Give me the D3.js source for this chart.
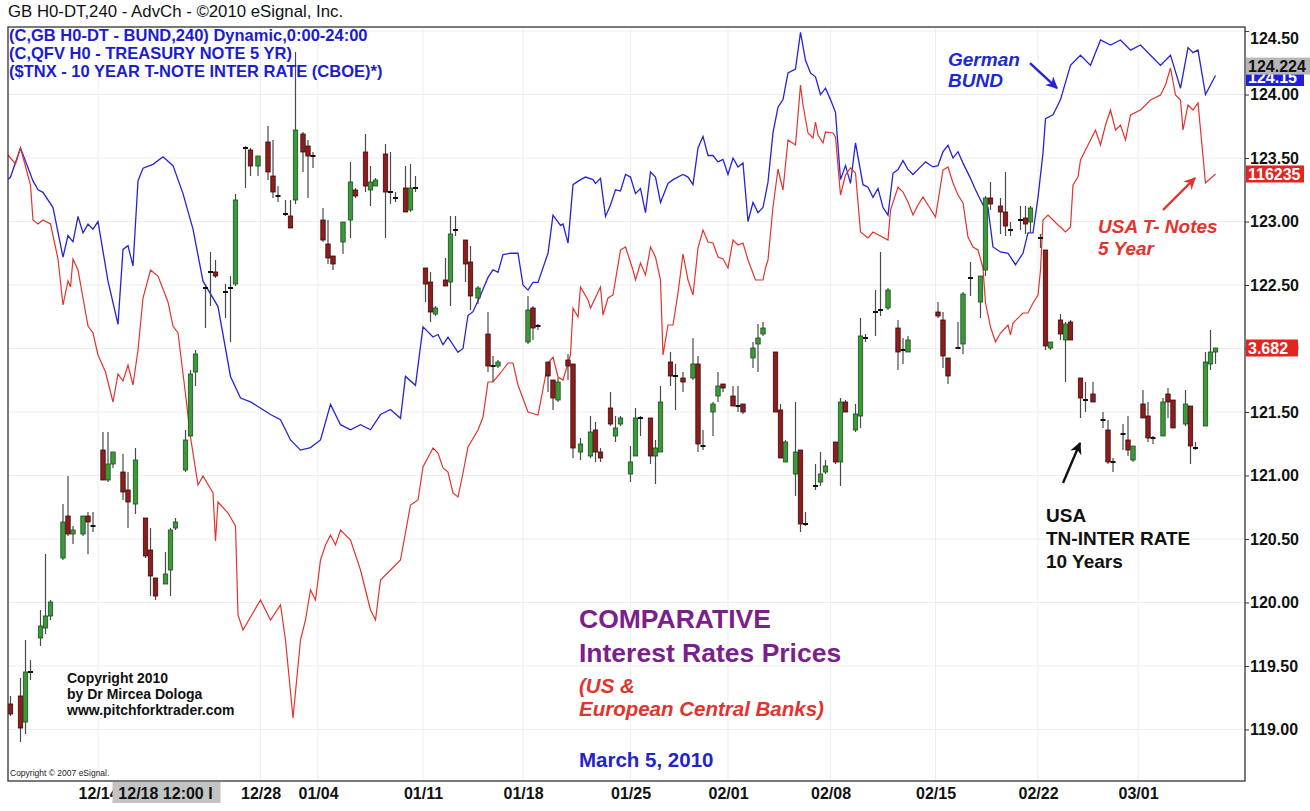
<!DOCTYPE html>
<html>
<head>
<meta charset="utf-8">
<script src="https://cdn.jsdelivr.net/npm/d3@7"></script>
<style>
  body { margin: 0; background: #fff; }
  svg { display: block; }
  text { font-family: "Liberation Sans", Arial, sans-serif; }
</style>
</head>
<body>
<svg width="1310" height="811"></svg>
<script>
// German Bund future, [bar, price]  (right axis)
const bund = [
  [0,123.33],[1,123.35],[5,123.58],[10,123.32],[12,123.25],[14,123.23],[18,123.11],[22,122.72],[24,122.89],[26,122.84],
  [28,123.04],[30,122.91],[32,122.98],[34,122.94],[36,123.00],[40,122.53],[44,122.19],[46,122.78],[48,122.81],[50,122.65],
  [52,123.32],[54,123.42],[58,123.45],[62,123.51],[66,123.44],[70,123.22],[74,122.94],[78,122.53],[84,122.33],[89,121.78],
  [93,121.61],[97,121.58],[105,121.48],[109,121.44],[113,121.28],[117,121.20],[121,121.22],[125,121.28],[129,121.56],[133,121.40],
  [137,121.36],[141,121.40],[145,121.36],[149,121.48],[153,121.52],[157,121.45],[159,121.78],[163,121.71],[166,122.17],[170,122.09],
  [172,122.11],[174,122.03],[176,122.09],[180,121.97],[182,122.00],[184,122.26],[186,122.29],[189,122.42],[192,122.56],[194,122.62],
  [196,122.60],[198,122.74],[201,122.75],[204,122.75],[206,122.50],[208,122.46],[210,122.52],[212,122.52],[216,122.75],[218,123.05],
  [221,122.97],[222,122.98],[224,122.83],[226,123.29],[229,123.33],[231,123.35],[234,123.33],[235,123.30],[237,123.34],[239,123.04],
  [241,123.13],[243,123.25],[245,123.24],[247,123.37],[249,123.35],[251,123.22],[253,123.26],[255,123.07],[257,123.39],[259,123.35],
  [261,123.15],[264,123.30],[266,123.33],[270,123.37],[272,123.35],[274,123.29],[276,123.58],[278,123.67],[280,123.52],[282,123.52],
  [284,123.47],[286,123.49],[288,123.37],[290,123.50],[292,123.43],[294,123.46],[296,123.00],[298,123.15],[300,123.07],[302,123.11],
  [304,123.31],[306,123.70],[308,123.90],[310,123.96],[312,124.17],[315,124.20],[317,124.49],[319,124.27],[321,124.17],[323,124.14],
  [325,124.00],[327,124.05],[329,123.96],[331,123.86],[333,123.33],[335,123.44],[337,123.30],[339,123.62],[342,123.29],[344,123.27],
  [346,123.19],[348,123.26],[350,123.11],[352,123.05],[354,123.38],[356,123.41],[358,123.48],[360,123.41],[362,123.37],[365,123.43],
  [367,123.47],[370,123.43],[372,123.44],[374,123.55],[376,123.60],[378,123.50],[380,123.55],[382,123.46],[385,123.34],[387,123.25],
  [390,123.13],[392,123.11],[394,122.80],[397,122.76],[400,122.75],[403,122.66],[406,122.75],[408,122.91],[410,122.91],[412,123.19],
  [414,123.54],[415,123.81],[418,123.84],[420,123.92],[421,123.96],[425,124.23],[429,124.31],[433,124.23],[437,124.43],[441,124.39],
  [445,124.43],[449,124.35],[453,124.39],[457,124.31],[461,124.23],[465,124.31],[469,124.05],[472,124.37],[474,124.33],[476,124.35],
  [479,124.00],[483,124.15]
];

// US 5 year T-note future, [bar, price]  (overlay scale)
const tnote = [
  [0,116.81],[3,116.774],[5,116.838],[9,116.69],[10,116.55],[12,116.534],[14,116.55],[17,116.534],[20,116.394],[22,116.21],
  [24,116.306],[25,116.282],[26,116.394],[28,116.35],[30,116.238],[32,116.126],[34,116.098],[36,116.01],[39,115.942],[42,115.822],
  [44,115.934],[46,115.906],[48,115.97],[50,115.89],[52,116.03],[54,116.238],[57,116.35],[60,116.326],[64,116.222],[66,116.126],
  [68,116.098],[71,115.854],[73,115.682],[76,115.49],[78,115.526],[82,115.458],[83,115.266],[84,115.422],[88,115.378],[91,115.326],
  [92,114.97],[94,114.91],[97,114.962],[101,115.03],[105,114.95],[109,115.01],[111,114.87],[114,114.558],[117,114.87],[119,114.95],
  [121,115.07],[123,115.03],[125,115.19],[127,115.25],[129,115.29],[131,115.25],[133,115.31],[137,115.27],[141,115.15],[145,114.99],
  [147,114.95],[149,115.11],[153,115.15],[157,115.19],[161,115.41],[164,115.43],[166,115.562],[170,115.638],[172,115.618],[174,115.558],
  [176,115.542],[178,115.458],[180,115.442],[182,115.538],[184,115.642],[188,115.71],[190,115.762],[192,115.902],[194,115.902],[197,115.938],
  [200,115.978],[202,115.978],[204,115.89],[208,115.782],[212,115.77],[216,115.978],[218,116.002],[220,115.922],[222,115.91],[225,116.01],
  [226,116.198],[228,116.162],[229,116.282],[232,116.23],[233,116.198],[237,116.282],[238,116.17],[240,116.238],[242,116.25],[245,116.43],
  [247,116.442],[250,116.35],[251,116.31],[253,116.378],[255,116.33],[257,116.442],[259,116.402],[261,116.31],[262,116.01],[264,116.13],
  [266,116.13],[268,116.258],[270,116.414],[272,116.31],[274,116.25],[276,116.438],[278,116.51],[280,116.462],[282,116.458],[284,116.402],
  [286,116.394],[288,116.358],[290,116.47],[292,116.45],[294,116.458],[296,116.39],[299,116.31],[302,116.31],[303,116.358],[304,116.39],
  [306,116.602],[308,116.754],[310,116.67],[312,116.87],[315,116.85],[317,117.09],[318,117.01],[320,116.898],[322,116.878],[323,116.942],
  [324,116.89],[326,116.858],[327,116.902],[330,116.898],[331,116.882],[333,116.65],[335,116.73],[337,116.758],[339,116.738],[341,116.502],
  [344,116.478],[346,116.502],[352,116.47],[353,116.59],[356,116.682],[358,116.662],[360,116.622],[362,116.57],[364,116.61],[366,116.642],
  [368,116.61],[371,116.562],[374,116.75],[376,116.762],[378,116.698],[380,116.65],[382,116.618],[384,116.482],[386,116.442],[388,116.43],
  [390,116.358],[391,116.218],[393,116.122],[395,116.062],[397,116.098],[400,116.13],[401,116.09],[402,116.138],[406,116.178],[408,116.178],
  [410,116.218],[412,116.25],[413,116.35],[414,116.55],[416,116.57],[418,116.55],[420,116.53],[421,116.522],[423,116.502],[425,116.522],
  [426,116.69],[428,116.722],[429,116.79],[431,116.83],[433,116.87],[435,116.91],[437,116.85],[439,116.93],[441,116.99],[443,116.91],
  [445,116.93],[447,116.87],[449,116.97],[453,116.99],[457,117.03],[461,117.05],[463,117.09],[465,117.158],[467,117.05],[469,117.03],
  [470,116.91],[472,117.01],[474,116.99],[476,117.018],[479,116.698],[483,116.734]
];

// $TNX 10 year yield candles, [bar, open, high, low, close]
const tnx = [
  [1,3.504,3.508,3.498,3.499],[5,3.508,3.517,3.485,3.492],[7,3.495,3.536,3.489,3.520],[9,3.519,3.526,3.516,3.520],
  [13,3.537,3.551,3.533,3.543],[15,3.542,3.579,3.539,3.548],[17,3.548,3.556,3.546,3.555],[22,3.577,3.604,3.576,3.595],
  [24,3.598,3.618,3.588,3.589],[26,3.589,3.593,3.584,3.591],[30,3.589,3.598,3.588,3.598],[32,3.598,3.600,3.579,3.595],
  [34,3.594,3.600,3.590,3.593],[38,3.631,3.640,3.616,3.616],[40,3.616,3.640,3.615,3.624],[42,3.624,3.630,3.622,3.630],
  [46,3.620,3.629,3.606,3.610],[48,3.611,3.620,3.592,3.605],[51,3.604,3.632,3.599,3.626],[55,3.597,3.597,3.577,3.578],
  [57,3.581,3.592,3.558,3.568],[59,3.567,3.567,3.556,3.558],[63,3.564,3.580,3.564,3.569],[65,3.571,3.592,3.558,3.591],
  [67,3.592,3.597,3.591,3.595],[71,3.621,3.641,3.620,3.636],[73,3.638,3.671,3.638,3.669],[75,3.670,3.681,3.663,3.679],
  [79,3.713,3.714,3.692,3.712],[81,3.719,3.730,3.703,3.720],[83,3.720,3.726,3.717,3.718],[87,3.711,3.714,3.697,3.710],
  [89,3.713,3.718,3.685,3.712],[91,3.714,3.759,3.713,3.756],[95,3.783,3.783,3.762,3.782],[97,3.781,3.782,3.768,3.773],
  [100,3.773,3.778,3.768,3.778],[104,3.785,3.793,3.766,3.770],[106,3.768,3.786,3.757,3.760],[108,3.759,3.763,3.755,3.758],
  [111,3.750,3.756,3.748,3.749],[113,3.748,3.756,3.742,3.742],[115,3.756,3.830,3.754,3.791],[118,3.789,3.790,3.770,3.780],
  [120,3.783,3.786,3.757,3.778],[122,3.779,3.780,3.772,3.778],[126,3.746,3.752,3.735,3.736],[128,3.734,3.746,3.724,3.727],
  [130,3.728,3.728,3.721,3.724],[134,3.735,3.745,3.729,3.745],[137,3.746,3.775,3.737,3.765],[139,3.761,3.762,3.757,3.758],
  [143,3.780,3.789,3.760,3.763],[145,3.761,3.773,3.753,3.765],[147,3.763,3.767,3.763,3.766],[151,3.779,3.784,3.737,3.760],
  [153,3.761,3.780,3.754,3.760],[155,3.758,3.760,3.755,3.757],[159,3.762,3.773,3.750,3.750],[161,3.751,3.774,3.750,3.762],
  [163,3.762,3.768,3.760,3.762],[167,3.722,3.722,3.705,3.714],[169,3.715,3.720,3.695,3.700],[171,3.699,3.703,3.698,3.702],
  [175,3.716,3.727,3.713,3.713],[177,3.715,3.748,3.703,3.739],[179,3.741,3.748,3.738,3.741],[183,3.736,3.736,3.715,3.724],
  [185,3.725,3.733,3.701,3.708],[188,3.707,3.713,3.704,3.712],[192,3.689,3.700,3.670,3.673],[194,3.674,3.678,3.665,3.673],
  [196,3.673,3.676,3.672,3.675],[208,3.685,3.708,3.684,3.701],[210,3.702,3.703,3.686,3.692],[212,3.694,3.694,3.691,3.693],
  [216,3.675,3.675,3.660,3.668],[218,3.666,3.666,3.651,3.657],[220,3.656,3.667,3.655,3.665],[224,3.676,3.679,3.666,3.673],
  [226,3.674,3.674,3.627,3.632],[229,3.630,3.637,3.626,3.634],[233,3.628,3.648,3.627,3.640],[235,3.641,3.645,3.625,3.630],
  [237,3.630,3.632,3.625,3.627],[241,3.652,3.660,3.643,3.644],[243,3.638,3.648,3.635,3.642],[245,3.644,3.648,3.643,3.647],
  [249,3.619,3.633,3.615,3.625],[251,3.628,3.652,3.628,3.647],[253,3.648,3.648,3.638,3.647],[257,3.647,3.647,3.624,3.628],
  [259,3.628,3.636,3.614,3.632],[261,3.630,3.663,3.630,3.655],[265,3.675,3.680,3.663,3.668],[267,3.669,3.674,3.651,3.668],
  [270,3.667,3.670,3.660,3.665],[274,3.667,3.687,3.666,3.674],[276,3.674,3.678,3.630,3.634],[278,3.634,3.641,3.631,3.633],
  [282,3.650,3.655,3.638,3.654],[284,3.658,3.670,3.655,3.663],[286,3.664,3.664,3.660,3.662],[290,3.658,3.663,3.653,3.653],
  [292,3.654,3.663,3.650,3.653],[294,3.654,3.654,3.649,3.650],[298,3.677,3.685,3.672,3.682],[300,3.684,3.694,3.670,3.687],
  [302,3.689,3.695,3.688,3.692],[307,3.680,3.680,3.650,3.650],[309,3.651,3.654,3.627,3.627],[311,3.625,3.636,3.625,3.635],
  [315,3.619,3.655,3.608,3.630],[317,3.631,3.631,3.590,3.594],[319,3.594,3.600,3.593,3.594],[323,3.614,3.624,3.611,3.613],
  [325,3.615,3.630,3.613,3.619],[327,3.620,3.626,3.619,3.623],[331,3.635,3.635,3.624,3.625],[333,3.625,3.657,3.613,3.655],
  [335,3.655,3.656,3.650,3.650],[339,3.641,3.654,3.640,3.649],[341,3.648,3.697,3.642,3.688],[343,3.687,3.689,3.685,3.687],
  [347,3.701,3.711,3.688,3.700],[349,3.700,3.730,3.698,3.701],[352,3.702,3.712,3.701,3.711],[356,3.692,3.696,3.671,3.680],
  [358,3.681,3.687,3.674,3.681],[360,3.680,3.688,3.680,3.686],[372,3.700,3.705,3.697,3.698],[374,3.696,3.700,3.672,3.678],
  [376,3.677,3.677,3.664,3.668],[380,3.683,3.695,3.682,3.682],[382,3.684,3.710,3.679,3.709],[385,3.716,3.725,3.708,3.717],
  [389,3.705,3.718,3.697,3.718],[391,3.721,3.758,3.718,3.757],[393,3.757,3.765,3.751,3.754],[397,3.753,3.757,3.739,3.750],
  [399,3.750,3.770,3.738,3.743],[401,3.741,3.745,3.738,3.741],[405,3.746,3.753,3.741,3.746],[407,3.747,3.753,3.739,3.744],
  [409,3.745,3.753,3.740,3.752],[413,3.737,3.739,3.732,3.737],[415,3.731,3.731,3.681,3.683],[417,3.682,3.685,3.681,3.685],
  [421,3.696,3.699,3.686,3.689],[423,3.686,3.695,3.665,3.694],[425,3.695,3.696,3.686,3.686],[429,3.667,3.667,3.647,3.657],
  [431,3.657,3.665,3.650,3.656],[434,3.659,3.665,3.655,3.655],[438,3.646,3.650,3.642,3.646],[440,3.641,3.646,3.624,3.625],
  [442,3.625,3.627,3.620,3.625],[446,3.640,3.644,3.631,3.639],[448,3.636,3.648,3.628,3.631],[450,3.626,3.633,3.625,3.633],
  [454,3.654,3.661,3.647,3.647],[456,3.648,3.655,3.635,3.637],[458,3.638,3.638,3.634,3.637],[462,3.638,3.657,3.638,3.655],
  [464,3.659,3.662,3.647,3.655],[466,3.656,3.656,3.642,3.642],[471,3.644,3.661,3.643,3.654],[473,3.653,3.653,3.624,3.633],
  [475,3.632,3.635,3.631,3.632],[479,3.643,3.680,3.643,3.675],[481,3.674,3.691,3.671,3.680],[483,3.680,3.681,3.674,3.682]
];

const priceTicks = [124.5, 124, 123.5, 123, 122.5, 122, 121.5, 121, 120.5, 120, 119.5, 119];
const dateBars = [36, 101, 124, 166, 206, 249, 288, 329, 371, 412, 452];
const dateLabels = ["12/14", "12/28", "01/04", "01/11", "01/18", "01/25", "02/01", "02/08", "02/15", "02/22", "03/01"];
const cursorBar = 63;
const cursorLabel = "12/18 12:00 I";

const lastBund = 124.15, crossBund = 124.224, lastTnote = 116.734, lastTnx = 3.682;

const headerLines = [
  "(C,GB H0-DT - BUND,240) Dynamic,0:00-24:00",
  "(C,QFV H0 - TREASURY NOTE 5 YR)",
  "($TNX - 10 YEAR T-NOTE INTER RATE (CBOE)*)"
];

const BLUE = "#2424d6";
const RED = "#e3332c";
const LEFT = 8, RIGHT = 1245, TOP = 28, BOTTOM = 781;

const svg = d3.select("svg");

const x = d3.scaleLinear().domain([0, 494.8]).range([LEFT, RIGHT]);
const yPrice = d3.scaleLinear().domain([118.594, 124.524]).range([BOTTOM, TOP]);
const yTnote = d3.scaleLinear().domain([114.306, 117.318]).range([BOTTOM, TOP]);
const yTnx = d3.scaleLinear().domain([3.4655, 3.842]).range([BOTTOM, TOP]);

svg.append("defs").append("clipPath").attr("id", "plot")
  .append("rect").attr("x", LEFT).attr("y", TOP)
  .attr("width", RIGHT - LEFT).attr("height", BOTTOM - TOP);

// faint grid
const grid = svg.append("g").attr("stroke", "#eeeeee").attr("stroke-width", 1);
grid.selectAll(".h").data(priceTicks).join("line")
  .attr("x1", LEFT).attr("x2", RIGHT)
  .attr("y1", d => yPrice(d)).attr("y2", d => yPrice(d));
grid.selectAll(".v").data(dateBars).join("line")
  .attr("y1", TOP).attr("y2", BOTTOM)
  .attr("x1", d => x(d)).attr("x2", d => x(d));

const plot = svg.append("g").attr("clip-path", "url(#plot)");

plot.append("path").datum(bund)
  .attr("fill", "none").attr("stroke", BLUE).attr("stroke-width", 1.3)
  .attr("d", d3.line().x(d => x(d[0])).y(d => yPrice(d[1])));

plot.append("path").datum(tnote)
  .attr("fill", "none").attr("stroke", RED).attr("stroke-width", 1.2)
  .attr("d", d3.line().x(d => x(d[0])).y(d => yTnote(d[1])));

// candles
const isDoji = d => Math.abs(d[1] - d[4]) < 0.0015;
const candles = plot.append("g").selectAll("g").data(tnx).join("g");
candles.append("line")
  .attr("x1", d => x(d[0])).attr("x2", d => x(d[0]))
  .attr("y1", d => yTnx(d[2])).attr("y2", d => yTnx(d[3]))
  .attr("stroke", "#4a4a4a").attr("stroke-width", 1.2);
candles.filter(d => !isDoji(d)).append("rect")
  .attr("x", d => x(d[0]) - 2.2).attr("width", 4.4)
  .attr("y", d => yTnx(Math.max(d[1], d[4])))
  .attr("height", d => Math.max(1.5, Math.abs(yTnx(d[1]) - yTnx(d[4]))))
  .attr("fill", d => d[4] > d[1] ? "#3a9a3a" : "#8e1d1d")
  .attr("stroke", d => d[4] > d[1] ? "#1d4d1d" : "#3e0c0c")
  .attr("stroke-width", 0.8);
candles.filter(isDoji).append("line")
  .attr("x1", d => x(d[0]) - 2.5).attr("x2", d => x(d[0]) + 2.5)
  .attr("y1", d => yTnx(d[4])).attr("y2", d => yTnx(d[4]))
  .attr("stroke", "#111").attr("stroke-width", 2);

// frame
svg.append("rect")
  .attr("x", LEFT).attr("y", TOP - 1).attr("width", RIGHT - LEFT).attr("height", BOTTOM - TOP + 1)
  .attr("fill", "none").attr("stroke", "#333").attr("stroke-width", 1.3);

// right price axis
const yAxis = svg.append("g").attr("transform", `translate(${RIGHT},0)`)
  .call(d3.axisRight(yPrice).tickValues(priceTicks).tickFormat(d3.format(".2f")).tickSize(4).tickPadding(1));
yAxis.select(".domain").remove();
yAxis.selectAll("line").attr("stroke", "#333");
yAxis.selectAll("text")
  .attr("font-size", 16).attr("font-weight", "bold").attr("fill", "#111")
  .attr("font-family", "'Liberation Sans', Arial, sans-serif")
  .filter(d => yPrice(d) < 38).attr("y", d => 38 - yPrice(d));

// bottom date axis
const xAxis = svg.append("g").attr("transform", `translate(0,${BOTTOM})`)
  .call(d3.axisBottom(x).tickValues(dateBars).tickFormat((d, i) => dateLabels[i]).tickSize(0).tickPadding(6.5));
xAxis.select(".domain").remove();
xAxis.selectAll("text")
  .attr("font-size", 16).attr("font-weight", "bold").attr("fill", "#111")
  .attr("font-family", "'Liberation Sans', Arial, sans-serif");

// crosshair date readout
const cx = x(cursorBar);
svg.append("rect").attr("x", cx - 53).attr("y", 782).attr("width", 108).attr("height", 21).attr("fill", "#c3c3c3");
svg.append("text").attr("x", cx).attr("y", 799).attr("text-anchor", "middle")
  .attr("font-size", 16).attr("font-weight", "bold").attr("fill", "#111").text(cursorLabel);

// last value badges
function badge(yv, label, bg, fg, w) {
  svg.append("rect").attr("x", RIGHT + 1).attr("y", yv - 8.5).attr("width", w).attr("height", 17).attr("fill", bg);
  svg.append("text").attr("x", RIGHT + 3).attr("y", yv + 6)
    .attr("font-size", 16).attr("font-weight", "bold").attr("fill", fg).text(label);
}
badge(yPrice(lastBund) + 2, d3.format(".2f")(lastBund), "#1f1fe0", "#fff", 58);
badge(yPrice(crossBund), d3.format(".3f")(crossBund), "#b6b6b6", "#111", 64);
badge(yTnote(lastTnote), "116235", "#e52420", "#fff", 58);
badge(yTnx(lastTnx), d3.format(".3f")(lastTnx), "#e52420", "#fff", 52);

// header
svg.append("text").attr("x", 8).attr("y", 17).attr("font-size", 16.8).attr("fill", "#111")
  .text("GB H0-DT,240 - AdvCh - ©2010 eSignal, Inc.");
svg.append("g").selectAll("text").data(headerLines).join("text")
  .attr("x", 9).attr("y", (d, i) => 41 + i * 18)
  .attr("font-size", 16.5).attr("font-weight", "bold").attr("fill", "#1c1cd0")
  .text(d => d);

// annotations
const defs = svg.select("defs");
[["ah-blue", BLUE], ["ah-red", RED], ["ah-black", "#111"]].forEach(([id, c]) => {
  defs.append("marker").attr("id", id).attr("viewBox", "0 0 10 10")
    .attr("refX", 9).attr("refY", 5).attr("markerWidth", 5).attr("markerHeight", 5)
    .attr("orient", "auto").append("path").attr("d", "M0,0 L10,5 L0,10 L3,5 Z").attr("fill", c);
});
function arrow(x1, y1, x2, y2, color, id) {
  svg.append("line").attr("x1", x1).attr("y1", y1).attr("x2", x2).attr("y2", y2)
    .attr("stroke", color).attr("stroke-width", 2.4).attr("marker-end", `url(#${id})`);
}
arrow(x(408.8), yPrice(124.248), x(419.6), yPrice(124.051), BLUE, "ah-blue");
arrow(x(462), yTnote(116.59), x(474.8), yTnote(116.718), RED, "ah-red");
arrow(x(422), yTnx(3.6145), x(428.8), yTnx(3.6345), "#111", "ah-black");

function label(lines, x0, y0, step, size, color, italic) {
  svg.append("g").selectAll("text").data(lines).join("text")
    .attr("x", x0).attr("y", (d, i) => y0 + i * step)
    .attr("font-size", size).attr("font-weight", "bold")
    .attr("font-style", italic ? "italic" : "normal").attr("fill", color)
    .text(d => d);
}
label(["German", "BUND"], 948, 66, 21, 19, "#1b2ad2", true);
label(["USA T- Notes", "5 Year"], 1098, 233, 22, 19, RED, true);
label(["USA", "TN-INTER RATE", "10 Years"], 1046, 522, 23, 19, "#111", false);
label(["COMPARATIVE", "Interest Rates Prices"], 579, 628, 34, 26.5, "#7b1f8e", false);
label(["(US &", "European Central Banks)"], 579, 693, 23, 20.5, RED, true);
label(["March 5, 2010"], 579, 767, 0, 20.5, "#2424cc", false);
label(["Copyright 2010", "by Dr Mircea Dologa", "www.pitchforktrader.com"], 67, 683, 16, 14, "#111", false);

svg.append("text").attr("x", 10).attr("y", 776).attr("font-size", 8.5).attr("fill", "#222")
  .text("Copyright © 2007 eSignal.");
</script>
</body>
</html>
